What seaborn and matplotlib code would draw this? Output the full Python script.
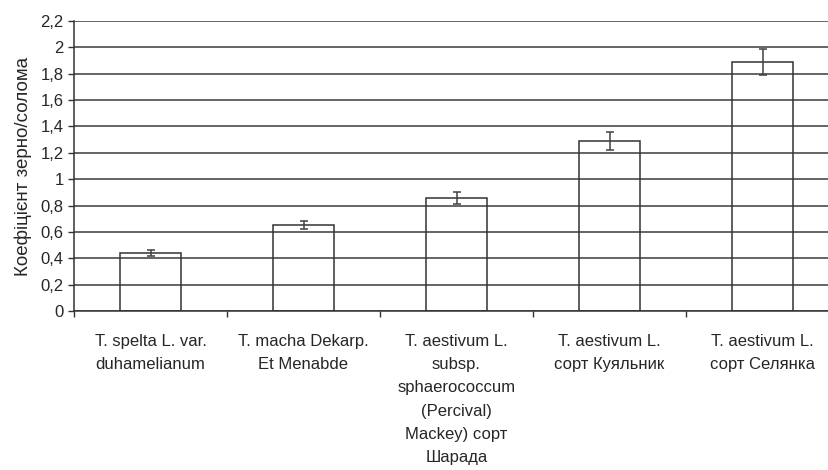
import matplotlib
matplotlib.use("Agg")
import matplotlib.pyplot as plt
from matplotlib.ticker import FixedLocator, FuncFormatter
import numpy as np
import pandas as pd
import seaborn as sns

categories = [
    "T. spelta L. var.\nduhamelianum",
    "T. macha Dekarp.\nEt Menabde",
    "T. aestivum L.\nsubsp.\nsphaerococcum\n(Percival)\nMackey) сорт\nШарада",
    "T. aestivum L.\nсорт Куяльник",
    "T. aestivum L.\nсорт Селянка",
]
ratio = [0.44, 0.65, 0.86, 1.29, 1.89]
ratio_err = [0.02, 0.03, 0.045, 0.065, 0.097]
y_ticks = [0, 0.2, 0.4, 0.6, 0.8, 1.0, 1.2, 1.4, 1.6, 1.8, 2.0, 2.2]

sns.set_theme(style="white")
plt.rcParams["font.family"] = ["Liberation Sans", "DejaVu Sans"]

df = pd.DataFrame({"species": categories, "ratio": ratio})

fig = plt.figure(figsize=(8.29, 4.70), dpi=100)
ax = fig.add_axes([74 / 829, 1 - 311 / 470, 765 / 829, 290 / 470])

for t in y_ticks:
    ax.axhline(t, color="#3a3a3a", lw=1.1, zorder=0)

sns.barplot(data=df, x="species", y="ratio", ax=ax, width=0.4, fill=False,
            color="#333333", linewidth=1.1, errorbar=None, zorder=2)
for p in ax.patches:
    p.set_edgecolor("#333333")

ax.errorbar(np.arange(len(ratio)), ratio, yerr=ratio_err, fmt="none",
            ecolor="#404040", elinewidth=1.1, capsize=3, capthick=1.1, zorder=3)

ax.set_xlim(-0.5, len(categories) - 0.5)
ax.set_ylim(0, 2.2)
ax.yaxis.set_major_locator(FixedLocator(y_ticks))
ax.yaxis.set_major_formatter(FuncFormatter(lambda v, _: f"{v:g}".replace(".", ",")))

ax.set_xticks(np.arange(len(categories)))
ax.set_xticklabels(categories, fontsize=12, linespacing=1.69, va="top")
ax.tick_params(axis="x", length=0, pad=16.5)
ax.set_xticks(np.arange(len(categories) + 1) - 0.5, minor=True)
ax.tick_params(axis="x", which="minor", direction="out", length=4.3, width=1, color="#333333", bottom=True)
ax.tick_params(axis="y", direction="out", length=4.3, width=1, color="#333333", left=True, labelsize=12, pad=3)

for s in ["top", "right"]:
    ax.spines[s].set_visible(False)
for s in ["left", "bottom"]:
    ax.spines[s].set_color("#333333")
    ax.spines[s].set_linewidth(1.1)

ax.set_xlabel("")
ax.set_ylabel("Коефіцієнт зерно/солома", fontsize=13.5, labelpad=6)

fig.savefig("out.png", dpi=100)
